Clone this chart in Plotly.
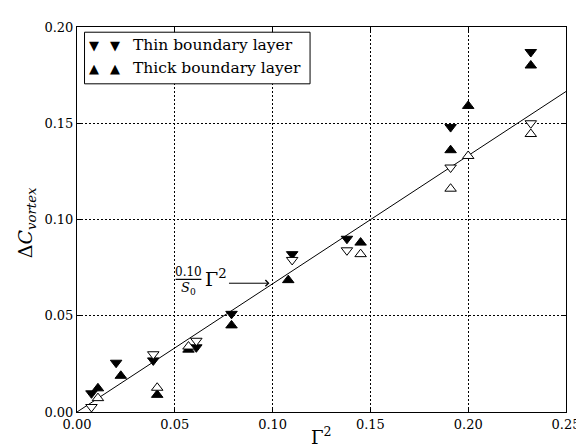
import plotly.graph_objects as go

# ---- data ----
thin_filled_x = [0.0074, 0.020, 0.039, 0.061, 0.079, 0.110, 0.138, 0.191, 0.232]
thin_filled_y = [0.0097, 0.0256, 0.0268, 0.0336, 0.051, 0.082, 0.090, 0.148, 0.187]

thin_open_x = [0.0074, 0.039, 0.061, 0.110, 0.138, 0.191, 0.232]
thin_open_y = [0.0026, 0.030, 0.037, 0.079, 0.084, 0.127, 0.150]

thick_filled_x = [0.0107, 0.0224, 0.041, 0.057, 0.079, 0.108, 0.145, 0.191, 0.200, 0.232]
thick_filled_y = [0.0123, 0.0188, 0.0089, 0.0324, 0.045, 0.0685, 0.088, 0.136, 0.159, 0.180]

thick_open_x = [0.0107, 0.041, 0.057, 0.145, 0.191, 0.200, 0.232]
thick_open_y = [0.0072, 0.0126, 0.034, 0.082, 0.116, 0.133, 0.1444]

fit_x = [0.0, 0.25]
fit_y = [0.0, 0.1665]

x_ticks = [0.00, 0.05, 0.10, 0.15, 0.20, 0.25]
y_ticks = [0.00, 0.05, 0.10, 0.15, 0.20]

legend_labels = ["Thin boundary layer", "Thick boundary layer"]

FONT = "DejaVu Serif"
MS = 10

fig = go.Figure()

fig.add_trace(go.Scatter(x=fit_x, y=fit_y, mode="lines",
                         line=dict(color="black", width=1), showlegend=False,
                         hoverinfo="skip"))

fig.add_trace(go.Scatter(x=thin_filled_x, y=thin_filled_y, mode="markers",
                         marker=dict(symbol="triangle-down", size=MS, color="black",
                                     line=dict(color="black", width=1)),
                         showlegend=False))
fig.add_trace(go.Scatter(x=thick_filled_x, y=thick_filled_y, mode="markers",
                         marker=dict(symbol="triangle-up", size=MS, color="black",
                                     line=dict(color="black", width=1)),
                         showlegend=False))
fig.add_trace(go.Scatter(x=thin_open_x, y=thin_open_y, mode="markers",
                         marker=dict(symbol="triangle-down", size=MS, color="white",
                                     line=dict(color="black", width=1)),
                         showlegend=False))
fig.add_trace(go.Scatter(x=thick_open_x, y=thick_open_y, mode="markers",
                         marker=dict(symbol="triangle-up", size=MS, color="white",
                                     line=dict(color="black", width=1)),
                         showlegend=False))

axis_common = dict(
    showline=True, linecolor="black", linewidth=1, mirror="ticks",
    ticks="inside", ticklen=4, tickcolor="black", tickwidth=1,
    showgrid=True, gridcolor="black", griddash="1.5px,2.5px", gridwidth=1,
    zeroline=False, tickformat=".2f",
    tickfont=dict(family=FONT, size=13, color="black"),
)

fig.update_xaxes(range=[0, 0.25], tickvals=x_ticks, **axis_common)
fig.update_yaxes(range=[0, 0.20], tickvals=y_ticks, **axis_common)

annotations = []
# axis titles
annotations.append(dict(xref="paper", yref="paper", x=0.5, y=0, yshift=-24,
                        xanchor="center", yanchor="middle", showarrow=False,
                        text="Γ<sup>2</sup>",
                        font=dict(family=FONT, size=18, color="black")))
annotations.append(dict(xref="paper", yref="paper", x=0, y=0.49, xshift=-51,
                        xanchor="center", yanchor="middle", showarrow=False,
                        textangle=-90,
                        text="Δ<i>C</i><sub><i>vortex</i></sub>",
                        font=dict(family=FONT, size=19, color="black")))

# fit-line label  (0.10 / S0) Γ^2  with arrow
annotations.append(dict(x=0.0569, y=0.0728, xref="x", yref="y", showarrow=False,
                        text="0.10", font=dict(family=FONT, size=12, color="black")))
annotations.append(dict(x=0.0569, y=0.0640, xref="x", yref="y", showarrow=False,
                        text="<i>S</i><sub>0</sub>",
                        font=dict(family=FONT, size=13, color="black")))
annotations.append(dict(x=0.0712, y=0.0695, xref="x", yref="y", showarrow=False,
                        text="Γ<sup>2</sup>",
                        font=dict(family=FONT, size=19, color="black")))
annotations.append(dict(x=0.0984, y=0.0669, xref="x", yref="y", showarrow=True,
                        ax=-42, ay=0, text="", arrowhead=4, arrowsize=1.2,
                        arrowwidth=1, arrowcolor="black", standoff=0))

# manual legend
legend_rows_y = [31.7, 55.0]
legend_syms = ["▼", "▲"]
def px_to_paper(px, py):
    return (px - 69) / 500.0, (404 - py) / 391.0

for lab, sym, py in zip(legend_labels, legend_syms, legend_rows_y):
    for mx in (86, 108):
        xp, yp = px_to_paper(mx, py)
        annotations.append(dict(xref="paper", yref="paper", x=xp, y=yp,
                                xanchor="center", yanchor="middle", showarrow=False,
                                text=sym,
                                font=dict(family="DejaVu Sans", size=13, color="black")))
    xp, yp = px_to_paper(124, py)
    annotations.append(dict(xref="paper", yref="paper", x=xp, y=yp,
                            xanchor="left", yanchor="middle", showarrow=False,
                            text=lab, font=dict(family=FONT, size=15.5, color="black")))

shapes = []
lx0, ly0 = px_to_paper(76.7, 70.7)
lx1, ly1 = px_to_paper(307.3, 18.3)
shapes.append(dict(type="rect", xref="paper", yref="paper", x0=lx0, y0=ly0,
                   x1=lx1, y1=ly1, line=dict(color="black", width=1),
                   fillcolor="white", layer="above"))
# fraction bar
shapes.append(dict(type="line", xref="x", yref="y", x0=0.0504, x1=0.0636,
                   y0=0.0689, y1=0.0689, line=dict(color="black", width=1.2)))

fig.update_layout(
    width=584, height=448,
    margin=dict(l=69, r=15, t=13, b=44),
    paper_bgcolor="white", plot_bgcolor="white",
    font=dict(family=FONT, color="black"),
    annotations=annotations, shapes=shapes,
    showlegend=False,
)

fig.write_html("out.html")
